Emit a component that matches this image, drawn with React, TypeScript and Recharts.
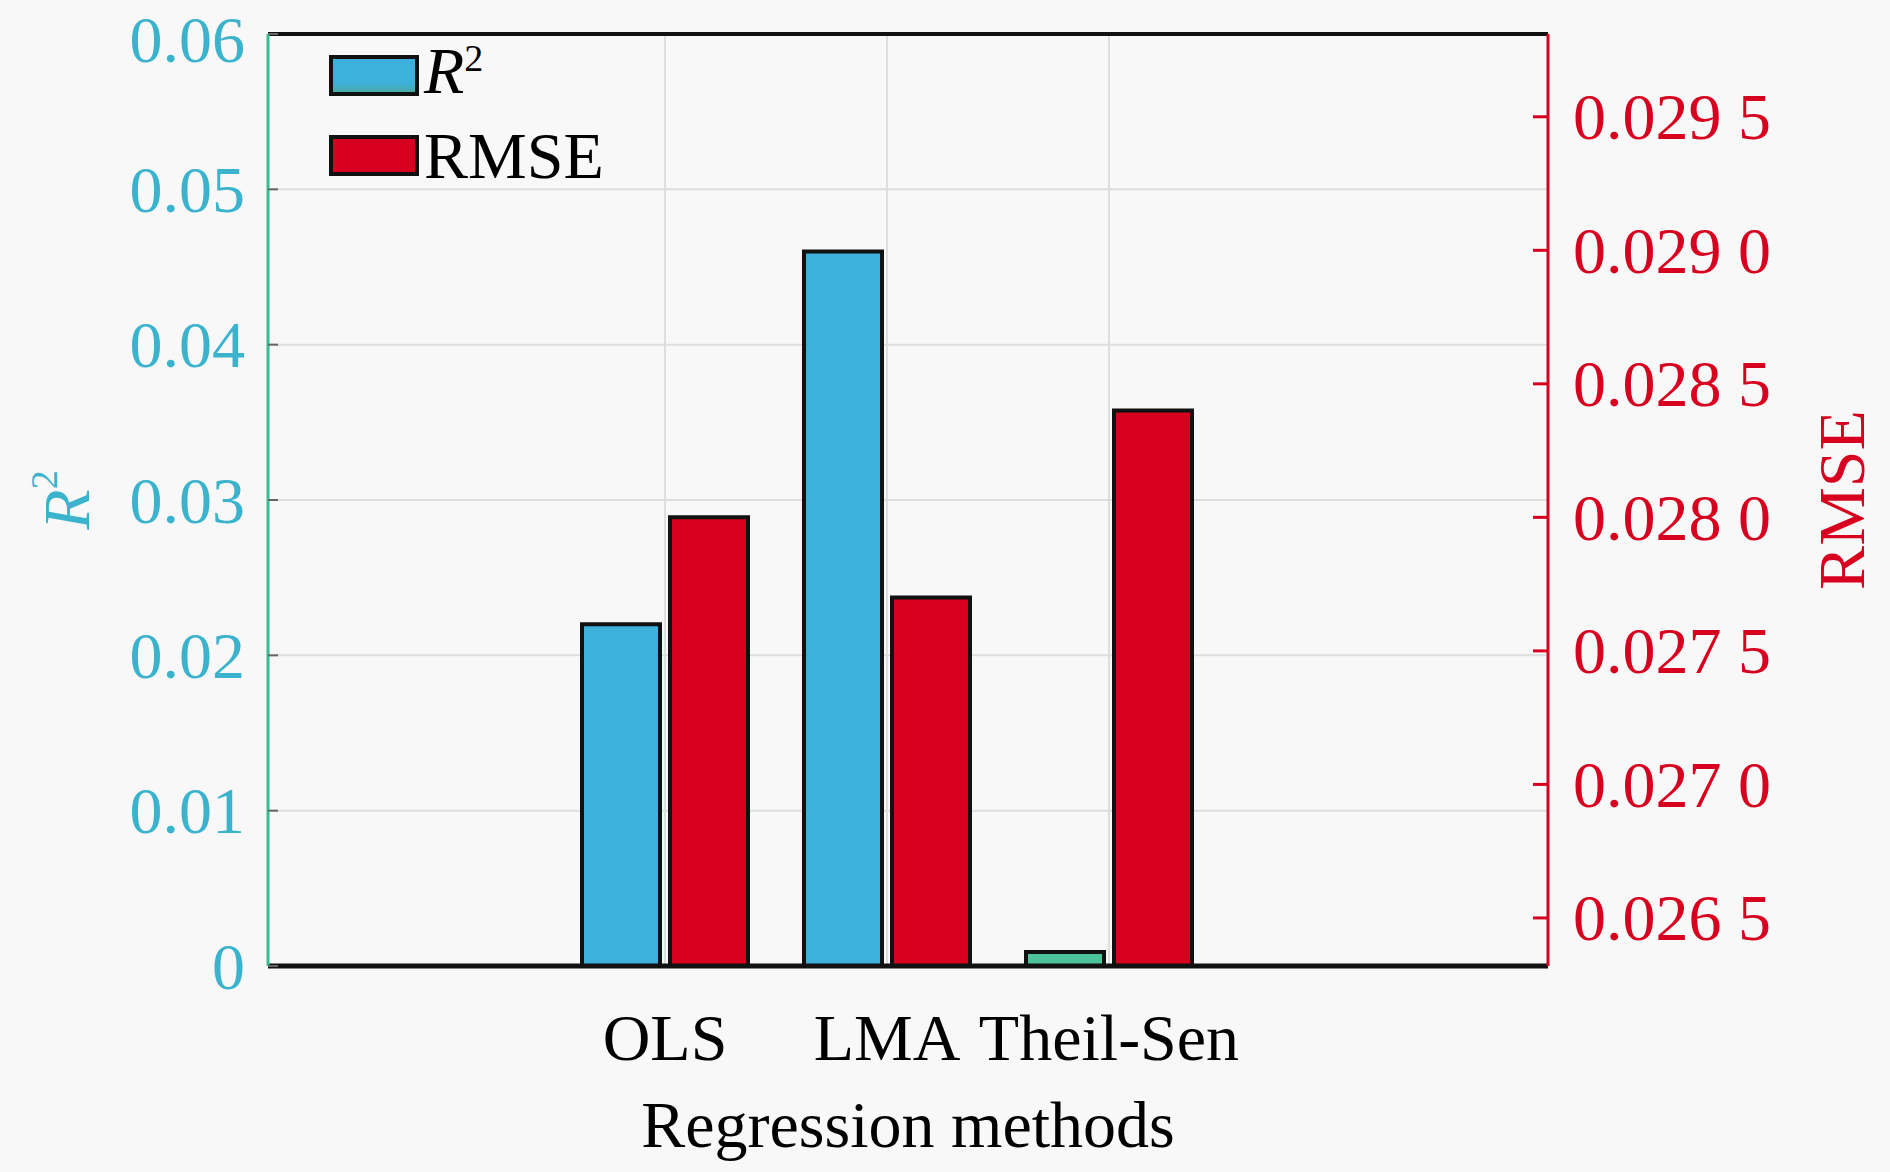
import {
  Bar,
  BarChart,
  CartesianGrid,
  Cell,
  ReferenceLine,
  XAxis,
  YAxis,
} from "recharts";

const methods = ["OLS", "LMA", "Theil-Sen"];
const r2Values = [0.022, 0.046, 0.0009];
const rmseValues = [0.028, 0.0277, 0.0284];
const r2Colors = ["#3db1dc", "#3db1dc", "#4cc49a"];
const r2Ticks = [0, 0.01, 0.02, 0.03, 0.04, 0.05, 0.06];
const rmseTicks = [0.0265, 0.027, 0.0275, 0.028, 0.0285, 0.029, 0.0295];
const rmseDomain = [0.02632, 0.02981];

const FONT = '"Liberation Serif", "Times New Roman", serif';
const BLUE = "#3db1dc";
const RED = "#d7001f";
const CYAN_TEXT = "#3cb3cc";
const GREEN_AXIS = "#36bb92";

const data = methods.map((m, i) => ({
  method: m,
  r2: r2Values[i],
  rmse: rmseValues[i],
}));

const fmtR2 = (v: number) => (v === 0 ? "0" : v.toFixed(2));
// journal style: "0.029 5"
const fmtRmse = (v: number) => {
  const s = v.toFixed(4);
  return `${s.slice(0, -1)} ${s.slice(-1)}`;
};

function LeftTick({ x, y, payload }: any) {
  const axisX = x + 23;
  // top label sits on the chart edge, nudge it so it is not clipped
  const dy = y < 40 ? 5 : 0;
  return (
    <g>
      <line x1={axisX} x2={axisX + 10} y1={y} y2={y} stroke="#666" strokeWidth={2} />
      <text
        x={x}
        y={y + dy}
        textAnchor="end"
        dominantBaseline="central"
        fill={CYAN_TEXT}
        fontSize={66}
        fontFamily={FONT}
      >
        {fmtR2(payload.value)}
      </text>
    </g>
  );
}

function RightTick({ x, y, payload }: any) {
  const axisX = x - 25;
  return (
    <g>
      <line x1={axisX - 15} x2={axisX} y1={y} y2={y} stroke={RED} strokeWidth={3} />
      <text
        x={x}
        y={y}
        textAnchor="start"
        dominantBaseline="central"
        fill={RED}
        fontSize={66}
        fontFamily={FONT}
        style={{ whiteSpace: "pre" }}
      >
        {fmtRmse(payload.value)}
      </text>
    </g>
  );
}

function R2Title({ viewBox }: any) {
  const cx = viewBox.x + 66;
  const cy = viewBox.y + viewBox.height / 2;
  return (
    <text
      x={cx}
      y={cy}
      transform={`rotate(-90 ${cx} ${cy})`}
      textAnchor="middle"
      dominantBaseline="central"
      fill={CYAN_TEXT}
      fontSize={66}
      fontFamily={FONT}
    >
      <tspan fontStyle="italic">R</tspan>
      <tspan fontSize={38} dy={-22}>2</tspan>
    </text>
  );
}

function RmseTitle({ viewBox }: any) {
  const cx = viewBox.x + 293;
  const cy = viewBox.y + viewBox.height / 2;
  return (
    <text
      x={cx}
      y={cy}
      transform={`rotate(-90 ${cx} ${cy})`}
      textAnchor="middle"
      dominantBaseline="central"
      fill={RED}
      fontSize={66}
      fontFamily={FONT}
    >
      RMSE
    </text>
  );
}

function LegendBox() {
  const row = { display: "flex", alignItems: "center", height: 41 } as const;
  const swatch = (fill: string) => ({
    width: 90,
    height: 41,
    boxSizing: "border-box" as const,
    border: "4px solid #111",
    background: fill,
  });
  const label = { marginLeft: 5, fontSize: 66, lineHeight: "41px", color: "#000" };
  return (
    <div style={{ position: "absolute", left: 329, top: 55, fontFamily: FONT }}>
      <div style={row}>
        <div style={swatch(`linear-gradient(to bottom, ${BLUE} 72%, #4aa9a6 100%)`)} />
        <span style={label}>
          <i>R</i>
          <span style={{ fontSize: 38, position: "relative", top: -22 }}>2</span>
        </span>
      </div>
      <div style={{ ...row, marginTop: 39 }}>
        <div style={swatch(RED)} />
        <span style={label}>RMSE</span>
      </div>
    </div>
  );
}

export default function App() {
  return (
    <div
      style={{
        position: "relative",
        width: 1890,
        height: 1172,
        background: "#f8f8f8",
        fontFamily: FONT,
      }}
    >
      <style>{"body{margin:0;background:#f8f8f8}"}</style>
      <BarChart
        width={1890}
        height={1172}
        data={data}
        margin={{ top: 34, right: 0, bottom: 0, left: 0 }}
        barSize={78}
        barGap={10}
      >
        <CartesianGrid yAxisId="r2" stroke="#dedede" strokeWidth={2} />
        <Bar dataKey="r2" yAxisId="r2" stroke="#111" strokeWidth={4} isAnimationActive={false}>
          {data.map((d, i) => (
            <Cell key={d.method} fill={r2Colors[i]} />
          ))}
        </Bar>
        <Bar
          dataKey="rmse"
          yAxisId="rmse"
          fill={RED}
          stroke="#111"
          strokeWidth={4}
          isAnimationActive={false}
        />
        <XAxis
          dataKey="method"
          height={206}
          padding={{ left: 286, right: 328 }}
          interval={0}
          tickLine={false}
          tickSize={0}
          tickMargin={47}
          axisLine={{ stroke: "#111", strokeWidth: 5 }}
          tick={{ fill: "#000", fontSize: 66, fontFamily: FONT }}
          label={{
            value: "Regression methods",
            position: "insideBottom",
            offset: 25,
            fill: "#000",
            fontSize: 66,
            fontFamily: FONT,
          }}
        />
        <YAxis
          yAxisId="r2"
          orientation="left"
          type="number"
          width={268}
          domain={[0, 0.06]}
          ticks={r2Ticks}
          interval={0}
          tickLine={false}
          tickSize={0}
          tickMargin={23}
          tick={LeftTick}
          axisLine={{ stroke: GREEN_AXIS, strokeWidth: 3 }}
          label={{ content: (p: any) => <R2Title viewBox={p.viewBox} /> }}
        />
        <YAxis
          yAxisId="rmse"
          orientation="right"
          type="number"
          width={342}
          domain={rmseDomain}
          allowDataOverflow
          ticks={rmseTicks}
          interval={0}
          tickLine={false}
          tickSize={0}
          tickMargin={25}
          tick={RightTick}
          axisLine={{ stroke: RED, strokeWidth: 3 }}
          label={{ content: (p: any) => <RmseTitle viewBox={p.viewBox} /> }}
        />
        <ReferenceLine y={0.06} yAxisId="r2" stroke="#111" strokeWidth={4} />
      </BarChart>
      <LegendBox />
    </div>
  );
}
